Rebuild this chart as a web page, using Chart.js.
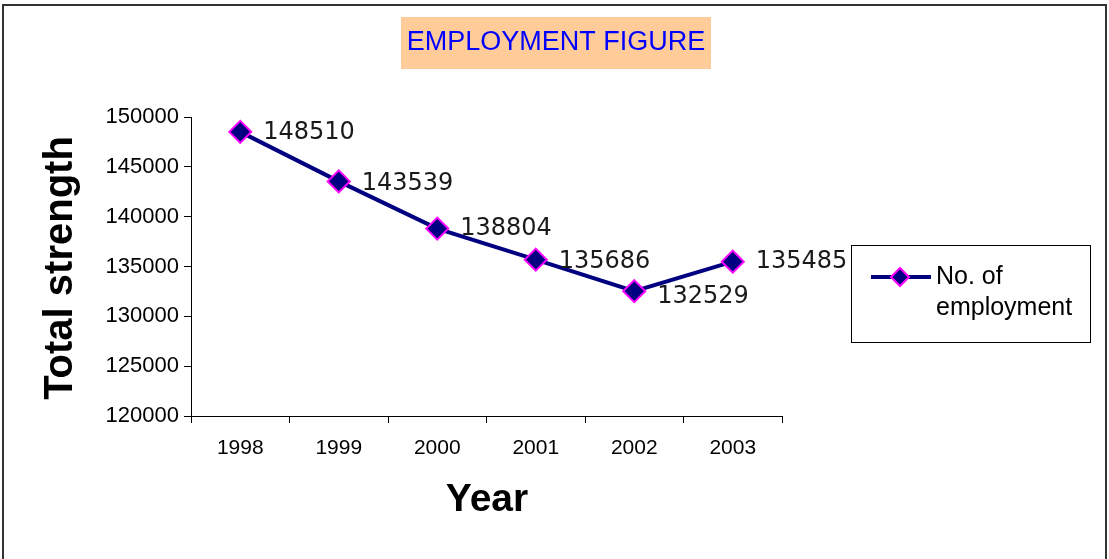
<!DOCTYPE html>
<html><head><meta charset="utf-8">
<script src="https://cdn.jsdelivr.net/npm/chart.js@4.4.1/dist/chart.umd.min.js"></script>
<style>html,body{margin:0;padding:0;background:#fff;}canvas{display:block;}</style>
</head><body>
<canvas id="c" width="1109" height="559"></canvas>
<script>
const years = ['1998','1999','2000','2001','2002','2003'];
const employment = [148510, 143539, 138804, 135686, 132529, 135485];
const labelOffsetsY = [1, 2, 0, 2, 6, 0];
const seriesName = ['No. of', 'employment'];
const chartTitle = 'EMPLOYMENT FIGURE';
const xTitle = 'Year';
const yTitle = 'Total strength';

const deco = {
  id: 'deco',
  afterDraw(chart) {
    const ctx = chart.ctx;
    ctx.save();
    // outer border
    ctx.strokeStyle = '#333';
    ctx.lineWidth = 2;
    ctx.beginPath();
    ctx.moveTo(3, 570); ctx.lineTo(3, 5); ctx.lineTo(1106, 5); ctx.lineTo(1106, 570);
    ctx.stroke();
    // title box
    ctx.fillStyle = '#FFCC99';
    ctx.fillRect(401, 17, 310, 52);
    ctx.fillStyle = '#0000FF';
    ctx.font = '27px "Liberation Sans", Arial, sans-serif';
    ctx.textAlign = 'center'; ctx.textBaseline = 'middle';
    ctx.fillText(chartTitle, 556, 43);
    // axis titles
    ctx.fillStyle = '#000';
    ctx.font = 'bold 39px "Liberation Sans", Arial, sans-serif';
    ctx.fillText(xTitle, 487, 500);
    ctx.save();
    ctx.translate(61, 268);
    ctx.rotate(-Math.PI / 2);
    ctx.font = 'bold 40px "Liberation Sans", Arial, sans-serif';
    ctx.fillText(yTitle, 0, 0);
    ctx.restore();
    // data labels
    const meta = chart.getDatasetMeta(0);
    ctx.font = '24px "DejaVu Sans", Verdana, sans-serif';
    ctx.fillStyle = '#1a1a1a';
    ctx.textAlign = 'left'; ctx.textBaseline = 'middle';
    meta.data.forEach((pt, i) => {
      ctx.fillText(String(employment[i]), pt.x + 23, pt.y + labelOffsetsY[i]);
    });
    // legend
    ctx.fillStyle = '#fff';
    ctx.fillRect(851, 245, 239, 97);
    ctx.strokeStyle = '#000';
    ctx.lineWidth = 1;
    ctx.strokeRect(851.5, 245.5, 239, 97);
    ctx.strokeStyle = '#000080';
    ctx.lineWidth = 4;
    ctx.beginPath(); ctx.moveTo(871, 277); ctx.lineTo(931, 277); ctx.stroke();
    ctx.fillStyle = '#000080';
    ctx.strokeStyle = '#FF00FF';
    ctx.lineWidth = 2;
    ctx.beginPath();
    ctx.moveTo(900, 268); ctx.lineTo(909, 277); ctx.lineTo(900, 286); ctx.lineTo(891, 277); ctx.closePath();
    ctx.fill(); ctx.stroke();
    ctx.fillStyle = '#000';
    ctx.font = '25px "Liberation Sans", Arial, sans-serif';
    ctx.textAlign = 'left';
    ctx.fillText(seriesName[0], 936, 277);
    ctx.fillText(seriesName[1], 936, 308);
    ctx.restore();
  }
};

new Chart(document.getElementById('c'), {
  type: 'line',
  data: {
    labels: years,
    datasets: [{
      label: seriesName.join(' '),
      data: employment,
      borderColor: '#000080',
      borderWidth: 4,
      backgroundColor: '#000080',
      pointStyle: 'rectRot',
      pointRadius: 11,
      pointBackgroundColor: '#000080',
      pointBorderColor: '#FF00FF',
      pointBorderWidth: 2,
      tension: 0
    }]
  },
  options: {
    responsive: false,
    animation: false,
    layout: { padding: { left: 0, top: 117, right: 327, bottom: 0 } },
    plugins: { legend: { display: false }, title: { display: false }, tooltip: { enabled: false } },
    scales: {
      x: {
        offset: true,
        grid: { display: true, offset: true, drawOnChartArea: false, tickLength: 7, color: '#000' },
        border: { color: '#000', width: 1 },
        ticks: { color: '#000', font: { family: '"Liberation Sans", Arial, sans-serif', size: 21 }, padding: 13 },
        afterFit(s) { s.height = 143; }
      },
      y: {
        min: 120000, max: 150000,
        grid: { display: true, drawOnChartArea: false, tickLength: 7, color: '#000' },
        border: { color: '#000', width: 1 },
        ticks: { stepSize: 5000, color: '#000', font: { family: '"Liberation Sans", Arial, sans-serif', size: 22 }, padding: 5,
                 callback: v => String(v) },
        afterFit(s) { s.width = 191; }
      }
    }
  },
  plugins: [deco]
});
</script>
</body></html>
